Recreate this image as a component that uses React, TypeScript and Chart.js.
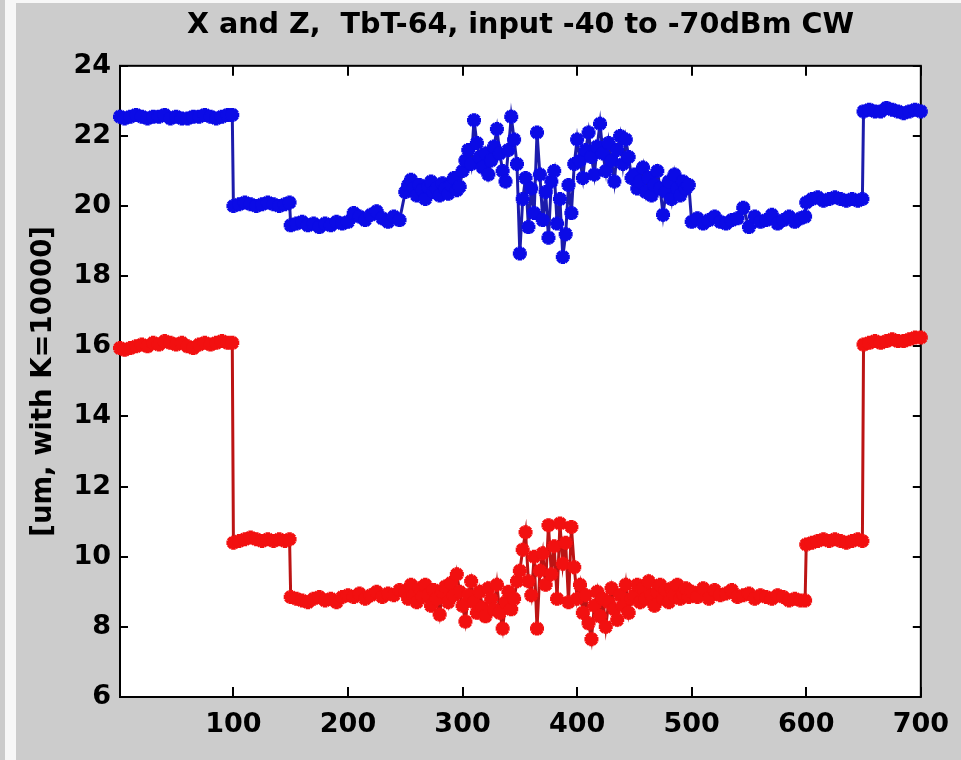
import React, { useEffect, useRef } from "react";
import { Chart, registerables } from "chart.js";

Chart.register(...registerables);

const titleText = "X and Z,  TbT-64, input -40 to -70dBm CW";
const yAxisTitle = "[um, with K=10000]";

const xTicks = [100, 200, 300, 400, 500, 600, 700];
const yTicks = [6, 8, 10, 12, 14, 16, 18, 20, 22, 24];

// turn numbers (sampled)
const turns = [
  1, 5, 10, 15, 20, 25, 30, 35, 40, 45, 50, 55, 60, 65, 70, 75, 80, 85, 90, 95, 99,
  100, 105, 110, 115, 120, 125, 130, 135, 140, 145, 149,
  150, 155, 160, 165, 170, 175, 180, 185, 190, 195,
  200, 205, 210, 215, 220, 225, 230, 235, 240, 245,
  250, 252.5, 255, 257.5, 260, 262.5, 265, 267.5, 270, 272.5,
  275, 277.5, 280, 282.5, 285, 287.5, 290, 292.5, 295, 297.5,
  300, 302.5, 305, 307.5, 310, 312.5, 315, 317.5, 320, 322.5,
  325, 327.5, 330, 332.5, 335, 337.5, 340, 342.5, 345, 347.5,
  350, 352.5, 355, 357.5, 360, 362.5, 365, 367.5, 370, 372.5,
  375, 377.5, 380, 382.5, 385, 387.5, 390, 392.5, 395, 397.5,
  400, 402.5, 405, 407.5, 410, 412.5, 415, 417.5, 420, 422.5,
  425, 427.5, 430, 432.5, 435, 437.5, 440, 442.5, 445, 447.5,
  450, 452.5, 455, 457.5, 460, 462.5, 465, 467.5, 470, 472.5,
  475, 477.5, 480, 482.5, 485, 487.5, 490, 492.5, 495, 497.5,
  500, 505, 510, 515, 520, 525, 530, 535, 540, 545,
  550, 555, 560, 565, 570, 575, 580, 585, 590, 595,
  599,
  600, 605, 610, 615, 620, 625, 630, 635, 640, 645, 649,
  650, 655, 660, 665, 670, 675, 680, 685, 690, 695, 700,
];

// X (blue)
const seriesX = [
  22.55, 22.5, 22.55, 22.6, 22.55, 22.5, 22.55, 22.55, 22.6, 22.5, 22.55, 22.5, 22.5, 22.55, 22.55, 22.6, 22.55, 22.5, 22.55, 22.6, 22.6,
  20.0, 20.05, 20.1, 20.05, 20.0, 20.05, 20.1, 20.05, 20.0, 20.05, 20.1,
  19.45, 19.5, 19.55, 19.45, 19.5, 19.4, 19.5, 19.45, 19.55, 19.5,
  19.55, 19.8, 19.7, 19.6, 19.75, 19.85, 19.65, 19.55, 19.7, 19.6,
  20.4, 20.6, 20.75, 20.5, 20.3, 20.6, 20.45, 20.2, 20.55, 20.7,
  20.4, 20.5, 20.3, 20.65, 20.5, 20.35, 20.6, 20.8, 20.45, 20.55,
  21.0, 21.3, 21.6, 21.2, 22.45, 21.8, 21.4, 21.1, 21.5, 20.9,
  21.3, 21.7, 22.2, 21.5, 21.0, 20.7, 21.6, 22.55, 21.9, 21.2,
  18.65, 20.2, 20.8, 19.4, 20.5, 19.8, 22.1, 20.9, 19.6, 20.4,
  19.1, 20.7, 21.0, 19.5, 20.2, 18.55, 19.2, 20.6, 19.8, 21.2,
  21.9, 21.3, 20.8, 21.6, 22.1, 21.4, 20.9, 21.7, 22.35, 21.5,
  21.0, 21.8, 21.3, 20.7, 21.6, 22.0, 21.2, 21.9, 21.4, 20.8,
  20.9, 20.5, 20.7, 21.1, 20.4, 20.8, 20.3, 20.6, 21.0, 20.5,
  19.75, 20.4, 20.7, 20.2, 20.9, 20.5, 20.3, 20.7, 20.5, 20.6,
  19.55, 19.65, 19.5, 19.6, 19.7, 19.55, 19.5, 19.6, 19.65, 19.95,
  19.4, 19.7, 19.55, 19.6, 19.75, 19.5, 19.6, 19.7, 19.55, 19.65,
  19.7,
  20.1, 20.2, 20.25, 20.15, 20.2, 20.25, 20.2, 20.15, 20.2, 20.15, 20.2,
  22.7, 22.75, 22.7, 22.7, 22.8, 22.75, 22.7, 22.65, 22.7, 22.75, 22.7,
];

// Z (red)
const seriesZ = [
  15.95, 15.9, 15.95, 16.0, 16.05, 16.0, 16.1, 16.05, 16.15, 16.1, 16.05, 16.1, 16.0, 15.95, 16.05, 16.1, 16.05, 16.1, 16.15, 16.1, 16.1,
  10.4, 10.45, 10.5, 10.55, 10.5, 10.45, 10.5, 10.45, 10.5, 10.45, 10.5,
  8.85, 8.8, 8.75, 8.7, 8.8, 8.85, 8.75, 8.8, 8.7, 8.85,
  8.9, 8.85, 8.95, 8.8, 8.9, 9.0, 8.85, 8.95, 8.9, 9.05,
  9.0, 8.8, 9.2, 8.9, 8.7, 9.1, 8.85, 9.2, 8.9, 8.6,
  9.05, 8.8, 8.35, 9.0, 9.15, 8.7, 9.25, 8.9, 9.5, 9.0,
  8.6, 8.15, 8.9, 9.3, 8.7, 8.4, 9.0, 8.55, 8.3, 9.1,
  8.8, 8.5, 9.2, 8.4, 7.95, 8.7, 9.0, 8.5, 8.8, 9.3,
  9.6, 10.2, 10.7, 9.3, 8.9, 10.0, 7.95, 9.6, 10.1, 9.2,
  10.9, 9.5, 10.3, 8.8, 10.95, 9.8, 10.4, 8.7, 10.85, 9.7,
  8.8, 9.2, 8.4, 8.9, 8.1, 7.65, 8.6, 9.0, 8.3, 8.8,
  8.0, 8.7, 9.1, 8.5, 8.2, 8.9, 8.6, 9.2, 8.4, 8.8,
  8.9, 9.2, 8.7, 9.1, 8.8, 9.3, 8.9, 8.6, 9.0, 9.2,
  8.8, 9.05, 8.7, 9.1, 8.9, 9.2, 8.8, 8.95, 9.1, 8.85,
  9.0, 8.85, 9.1, 8.8, 9.05, 8.9, 8.95, 9.05, 8.85, 8.9,
  8.95, 8.8, 8.9, 8.85, 8.8, 8.9, 8.85, 8.75, 8.8, 8.75,
  8.75,
  10.35, 10.4, 10.45, 10.5, 10.45, 10.5, 10.45, 10.4, 10.45, 10.5, 10.45,
  16.05, 16.1, 16.15, 16.1, 16.15, 16.2, 16.15, 16.15, 16.2, 16.25, 16.25,
];

const FONT = "'DejaVu Sans', 'Liberation Sans', Arial, sans-serif";

const boxPlugin = {
  id: "matlabBox",
  beforeDraw(chart: any) {
    const { ctx, chartArea: a } = chart;
    ctx.save();
    ctx.fillStyle = "#ffffff";
    ctx.fillRect(a.left, a.top, a.right - a.left, a.bottom - a.top);
    ctx.restore();
  },
  beforeDatasetsDraw(chart: any) {
    const { ctx, chartArea: a, scales } = chart;
    ctx.save();
    ctx.strokeStyle = "#000000";
    ctx.lineWidth = 2;
    ctx.strokeRect(a.left, a.top, a.right - a.left, a.bottom - a.top);
    ctx.beginPath();
    for (const v of xTicks) {
      const px = Math.round(scales.x.getPixelForValue(v));
      ctx.moveTo(px, a.bottom);
      ctx.lineTo(px, a.bottom - 10);
      ctx.moveTo(px, a.top);
      ctx.lineTo(px, a.top + 10);
    }
    for (const v of yTicks) {
      const py = Math.round(scales.y.getPixelForValue(v));
      ctx.moveTo(a.left, py);
      ctx.lineTo(a.left + 8, py);
      ctx.moveTo(a.right, py);
      ctx.lineTo(a.right - 8, py);
    }
    ctx.stroke();
    ctx.restore();
  },
};

export default function App() {
  const canvasRef = useRef<HTMLCanvasElement | null>(null);

  useEffect(() => {
    if (!canvasRef.current) return;
    const chart = new Chart(canvasRef.current, {
      type: "line",
      data: {
        datasets: [
          {
            label: "X",
            data: turns.map((t, i) => ({ x: t, y: seriesX[i] })),
            borderColor: "#1c1cac",
            borderWidth: 3,
            pointStyle: "star",
            pointRadius: 7,
            pointBorderWidth: 4.5,
            pointBorderColor: "#0b0be6",
            pointBackgroundColor: "#0b0be6",
            tension: 0,
            clip: false,
          },
          {
            label: "Z",
            data: turns.map((t, i) => ({ x: t, y: seriesZ[i] })),
            borderColor: "#bc1414",
            borderWidth: 3,
            pointStyle: "star",
            pointRadius: 7,
            pointBorderWidth: 4.5,
            pointBorderColor: "#f21010",
            pointBackgroundColor: "#f21010",
            tension: 0,
            clip: false,
          },
        ],
      },
      options: {
        animation: false,
        responsive: true,
        maintainAspectRatio: false,
        layout: { padding: { left: 0, right: 39, top: 0, bottom: 0 } },
        plugins: {
          legend: { display: false },
          tooltip: { enabled: false },
          title: {
            display: true,
            text: titleText,
            fullSize: false,
            color: "#000000",
            font: { family: FONT, size: 28.6, weight: "bold" },
            padding: { top: 5, bottom: 23.5 },
          },
        },
        scales: {
          x: {
            type: "linear",
            min: 1,
            max: 700,
            grid: { display: false, drawTicks: false },
            border: { display: false },
            afterBuildTicks: (axis: any) => {
              axis.ticks = xTicks.map((v) => ({ value: v }));
            },
            afterFit: (axis: any) => {
              axis.height = 63;
            },
            ticks: {
              color: "#000000",
              padding: 12,
              maxRotation: 0,
              autoSkip: false,
              font: { family: FONT, size: 27, weight: "bold" },
            },
          },
          y: {
            type: "linear",
            min: 6,
            max: 24,
            grid: { display: false, drawTicks: false },
            border: { display: false },
            afterBuildTicks: (axis: any) => {
              axis.ticks = yTicks.map((v) => ({ value: v }));
            },
            afterFit: (axis: any) => {
              axis.width = 104;
            },
            ticks: {
              color: "#000000",
              padding: 9,
              autoSkip: false,
              font: { family: FONT, size: 27, weight: "bold" },
            },
            title: {
              display: true,
              text: yAxisTitle,
              color: "#000000",
              font: { family: FONT, size: 27.5, weight: "bold" },
              padding: { top: 11.5, bottom: 0 },
            },
          },
        },
      },
      plugins: [boxPlugin],
    } as any);
    return () => chart.destroy();
  }, []);

  return (
    <div
      style={{
        position: "fixed",
        left: 0,
        top: 0,
        width: 961,
        height: 760,
        background: "#f7f7f7",
        overflow: "hidden",
      }}
    >
      <div
        style={{
          position: "absolute",
          left: 0,
          top: 0,
          width: 5,
          height: 760,
          background: "#cbcbcb",
        }}
      />
      <div
        style={{
          position: "absolute",
          left: 16,
          top: 3,
          width: 945,
          height: 757,
          background: "#cccccc",
        }}
      >
        <canvas ref={canvasRef} />
      </div>
    </div>
  );
}
